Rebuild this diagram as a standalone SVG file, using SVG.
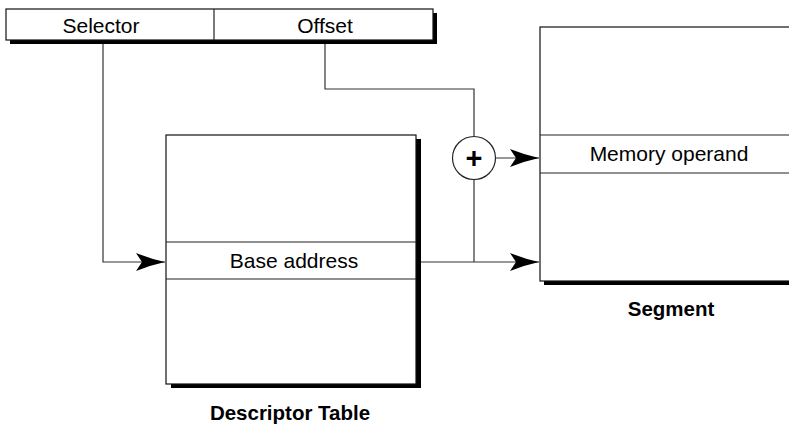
<svg xmlns="http://www.w3.org/2000/svg" width="789" height="424" viewBox="0 0 789 424">
<style>
.box{fill:#fff;stroke:#111;stroke-width:1.2}
.shadow{fill:#000}
.row{stroke:#222;stroke-width:1.2;fill:none}
.conn{stroke:#333;stroke-width:1.2;fill:none}
.lbl{font-family:"Liberation Sans",Arial,sans-serif;font-size:21px;fill:#000;text-anchor:middle}
.title{font-family:"Liberation Sans",Arial,sans-serif;font-size:20.5px;font-weight:bold;fill:#000;text-anchor:middle}
</style>
<defs>
<marker id="arr" markerUnits="userSpaceOnUse" markerWidth="32" markerHeight="22" viewBox="-31 -11 32 22" refX="0" refY="0" orient="auto">
<path d="M0,0 Q-14,-3 -29,-9 L-23,0 L-29,9 Q-14,3 0,0 Z" fill="#000"/>
</marker>
</defs>
<rect width="789" height="424" fill="#fff"/>

<g id="pointer">
<rect class="shadow" x="10" y="13" width="427" height="31"/>
<rect class="box" x="6" y="9" width="427" height="31"/>
<line class="row" x1="214" y1="9" x2="214" y2="40"/>
<text class="lbl" x="101" y="32.5">Selector</text>
<text class="lbl" x="325" y="32.5">Offset</text>
</g>

<g id="descriptor-table">
<rect class="shadow" x="171" y="139" width="250" height="249"/>
<rect class="box" x="166" y="135" width="250" height="249"/>
<line class="row" x1="166" y1="242" x2="416" y2="242"/>
<line class="row" x1="166" y1="279" x2="416" y2="279"/>
<text class="lbl" x="294" y="268">Base address</text>
<text class="title" x="290" y="420">Descriptor Table</text>
</g>

<g id="segment">
<rect class="shadow" x="544" y="31" width="260" height="254"/>
<rect class="box" x="540" y="27" width="260" height="254"/>
<line class="row" x1="540" y1="135" x2="800" y2="135"/>
<line class="row" x1="540" y1="173" x2="800" y2="173"/>
<text class="lbl" x="669" y="161">Memory operand</text>
<text class="title" x="671" y="316">Segment</text>
</g>

<g id="adder">
<circle cx="474" cy="158" r="21.5" fill="#fff" stroke="#222" stroke-width="1.2"/>
<text x="474" y="168" font-family="'Liberation Sans',Arial,sans-serif" font-size="29" font-weight="bold" text-anchor="middle">+</text>
</g>

<g id="connectors">
<polyline class="conn" points="103,44 103,262 165,262" marker-end="url(#arr)"/>
<polyline class="conn" points="325,44 325,89 474,89 474,136.5"/>
<line class="conn" x1="495.5" y1="158" x2="539" y2="158" marker-end="url(#arr)"/>
<line class="conn" x1="474" y1="179.5" x2="474" y2="262"/>
<line class="conn" x1="421" y1="262" x2="539" y2="262" marker-end="url(#arr)"/>
</g>
</svg>
